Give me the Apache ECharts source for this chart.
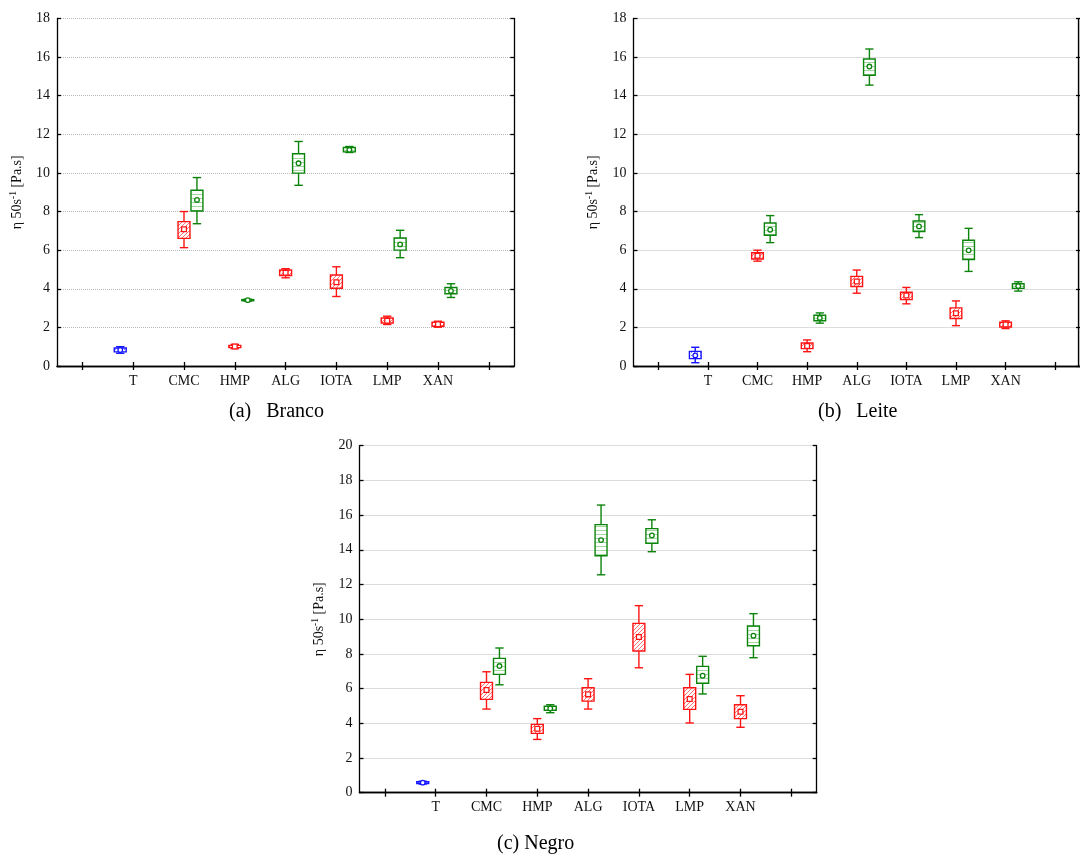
<!DOCTYPE html>
<html>
<head>
<meta charset="utf-8">
<script src="https://cdn.jsdelivr.net/npm/echarts@6/dist/echarts.min.js"></script>
<style>
html,body{margin:0;padding:0;background:#fff;}
#chart{width:1080px;height:855px;}
</style>
</head>
<body>
<div id="chart"></div>
<script>
// ---------------- DATA ----------------
const categories = ['T', 'CMC', 'HMP', 'ALG', 'IOTA', 'LMP', 'XAN'];
const captions = ['(a)   Branco', '(b)   Leite', '(c) Negro'];

// rows: [category, whiskerLow, boxLow, mean, boxHigh, whiskerHigh]
const brancoBlue = [['T', 0.66, 0.73, 0.83, 0.93, 1.00]];
const brancoRed = [
  ['CMC', 6.13, 6.61, 7.08, 7.48, 8.00],
  ['HMP', 0.90, 0.95, 1.01, 1.07, 1.12],
  ['ALG', 4.57, 4.69, 4.83, 4.97, 5.04],
  ['IOTA', 3.60, 4.03, 4.34, 4.71, 5.14],
  ['LMP', 2.15, 2.23, 2.35, 2.49, 2.58],
  ['XAN', 2.01, 2.06, 2.16, 2.27, 2.32]
];
const brancoGreen = [
  ['CMC', 7.37, 8.03, 8.60, 9.10, 9.76],
  ['HMP', 3.36, 3.38, 3.41, 3.44, 3.46],
  ['ALG', 9.36, 9.99, 10.50, 11.00, 11.63],
  ['IOTA', 11.06, 11.09, 11.20, 11.32, 11.37],
  ['LMP', 5.61, 6.00, 6.30, 6.63, 7.03],
  ['XAN', 3.55, 3.74, 3.89, 4.07, 4.26]
];

const leiteBlue = [['T', 0.17, 0.38, 0.55, 0.76, 0.97]];
const leiteRed = [
  ['CMC', 5.43, 5.54, 5.71, 5.87, 6.00],
  ['HMP', 0.74, 0.90, 1.04, 1.19, 1.35],
  ['ALG', 3.77, 4.12, 4.38, 4.64, 4.97],
  ['IOTA', 3.22, 3.44, 3.65, 3.82, 4.07],
  ['LMP', 2.09, 2.46, 2.73, 3.01, 3.37],
  ['XAN', 1.94, 2.02, 2.15, 2.27, 2.34]
];
const leiteGreen = [
  ['CMC', 6.39, 6.77, 7.06, 7.41, 7.79],
  ['HMP', 2.22, 2.34, 2.49, 2.63, 2.75],
  ['ALG', 14.55, 15.06, 15.51, 15.90, 16.42],
  ['IOTA', 6.65, 6.97, 7.23, 7.51, 7.84],
  ['LMP', 4.90, 5.52, 5.99, 6.51, 7.13],
  ['XAN', 3.88, 4.02, 4.14, 4.26, 4.36]
];

const negroBlue = [['T', 0.50, 0.53, 0.58, 0.63, 0.66]];
const negroRed = [
  ['CMC', 4.82, 5.38, 5.92, 6.36, 6.97],
  ['HMP', 3.07, 3.42, 3.69, 3.94, 4.27],
  ['ALG', 4.82, 5.28, 5.67, 6.05, 6.57],
  ['IOTA', 7.20, 8.17, 8.97, 9.76, 10.78],
  ['LMP', 4.02, 4.80, 5.40, 6.05, 6.82],
  ['XAN', 3.77, 4.27, 4.67, 5.07, 5.59]
];
const negroGreen = [
  ['CMC', 6.22, 6.82, 7.30, 7.74, 8.34],
  ['HMP', 4.61, 4.75, 4.86, 4.98, 5.07],
  ['ALG', 12.56, 13.66, 14.56, 15.45, 16.58],
  ['IOTA', 13.89, 14.37, 14.83, 15.22, 15.73],
  ['LMP', 5.69, 6.30, 6.74, 7.28, 7.86],
  ['XAN', 7.78, 8.47, 9.05, 9.61, 10.32]
];

// ---------------- STYLE / LAYOUT ----------------
const FONT = '"Liberation Serif", "Times New Roman", serif';
const axisCats = [''].concat(categories, ['']);
const RED = '#ff1414', GREEN = '#0c840c', BLUE = '#1414ff';

function makePattern(kind) {
  const c = document.createElement('canvas');
  const ctx = c.getContext('2d');
  if (kind === 'diag') {
    c.width = 4; c.height = 4;
    ctx.fillStyle = '#ffffff'; ctx.fillRect(0, 0, 4, 4);
    ctx.strokeStyle = '#ff7070'; ctx.lineWidth = 1;
    ctx.beginPath(); ctx.moveTo(-1, 5); ctx.lineTo(5, -1); ctx.stroke();
    ctx.beginPath(); ctx.moveTo(-1, 1); ctx.lineTo(1, -1); ctx.stroke();
    ctx.beginPath(); ctx.moveTo(3, 5); ctx.lineTo(5, 3); ctx.stroke();
  } else if (kind === 'horiz') {
    c.width = 4; c.height = 4;
    ctx.fillStyle = '#ffffff'; ctx.fillRect(0, 0, 4, 4);
    ctx.fillStyle = '#a0d8a0'; ctx.fillRect(0, 2, 4, 1);
  } else {
    c.width = 3; c.height = 3;
    ctx.fillStyle = '#ffffff'; ctx.fillRect(0, 0, 3, 3);
    ctx.fillStyle = '#8080ff'; ctx.fillRect(1, 1, 1, 1);
  }
  return { image: c, repeat: 'repeat' };
}
const PAT = { diag: makePattern('diag'), horiz: makePattern('horiz'), dots: makePattern('dots') };

function makeRender(offset, color, pattern, markerKind) {
  return function (params, api) {
    const xi = api.value(0);
    const band = api.size([1, 0])[0];
    const cx = api.coord([xi, 0])[0] + offset * band;
    const yy = i => api.coord([xi, api.value(i)])[1];
    const wl = yy(1), bl = yy(2), m = yy(3), bh = yy(4), wh = yy(5);
    const bw = band * 0.235, cw = band * 0.165;
    const LW = 1.4;
    const ls = { stroke: color, lineWidth: LW, fill: null };
    let marker;
    if (markerKind === 'square') {
      marker = { type: 'rect', shape: { x: cx - 2.4, y: m - 2.4, width: 4.8, height: 4.8 },
                 style: { fill: '#fff', stroke: color, lineWidth: 1.3 } };
    } else {
      marker = { type: 'circle', shape: { cx: cx, cy: m, r: 2.3 },
                 style: { fill: '#fff', stroke: color, lineWidth: 1.3 } };
    }
    return {
      type: 'group',
      children: [
        { type: 'line', shape: { x1: cx, y1: wh, x2: cx, y2: bh }, style: ls },
        { type: 'line', shape: { x1: cx, y1: bl, x2: cx, y2: wl }, style: ls },
        { type: 'line', shape: { x1: cx - cw / 2, y1: wh, x2: cx + cw / 2, y2: wh }, style: ls },
        { type: 'line', shape: { x1: cx - cw / 2, y1: wl, x2: cx + cw / 2, y2: wl }, style: ls },
        { type: 'rect', shape: { x: cx - bw / 2, y: bh, width: bw, height: Math.max(bl - bh, 1) },
          style: { fill: pattern, stroke: color, lineWidth: LW } },
        marker
      ]
    };
  };
}

function toRows(arr) {
  return arr.map(r => [axisCats.indexOf(r[0])].concat(r.slice(1)));
}

const panels = [
  { grid: { left: 57, top: 18.5, width: 457.2, height: 347.5 }, yMax: 18,
    blue: brancoBlue, red: brancoRed, green: brancoGreen },
  { grid: { left: 633.5, top: 18.5, width: 457.2, height: 347.5 }, yMax: 18,
    blue: leiteBlue, red: leiteRed, green: leiteGreen },
  { grid: { left: 359.5, top: 445.7, width: 457.2, height: 347 }, yMax: 20,
    blue: negroBlue, red: negroRed, green: negroGreen }
];

const grids = [], xAxes = [], yAxes = [], series = [];
panels.forEach((p, i) => {
  grids.push(Object.assign({ containLabel: false }, p.grid));
  const lineStyle = { color: '#000', width: 1.3 };
  xAxes.push({
    type: 'category', gridIndex: i, data: axisCats, position: 'bottom', boundaryGap: true,
    axisLine: { show: true, lineStyle },
    axisTick: { show: true, inside: true, length: 4, alignWithLabel: true, interval: 0, lineStyle },
    axisLabel: { show: true, interval: 0, margin: 8, fontFamily: FONT, fontSize: 14, color: '#111' },
    splitLine: { show: false }
  });
  xAxes.push({
    type: 'category', gridIndex: i, data: axisCats, position: 'top', boundaryGap: true,
    axisLine: { show: true, lineStyle },
    axisTick: { show: true, inside: true, length: 4, alignWithLabel: true, interval: 0, lineStyle },
    axisLabel: { show: false }, splitLine: { show: false }
  });
  yAxes.push({
    type: 'value', gridIndex: i, min: 0, max: p.yMax, interval: 2, position: 'left',
    name: '{a|η 50s}{s|-1}{a| [Pa.s]}', nameLocation: 'middle', nameGap: 33, nameRotate: 90,
    nameTextStyle: {
      rich: {
        a: { fontFamily: FONT, fontSize: 14, color: '#111', lineHeight: 16, verticalAlign: 'bottom' },
        s: { fontFamily: FONT, fontSize: 9.5, color: '#111', lineHeight: 16, verticalAlign: 'top' }
      }
    },
    axisLine: { show: true, lineStyle },
    axisTick: { show: true, inside: true, length: 4, lineStyle },
    axisLabel: { show: true, margin: 7, fontFamily: FONT, fontSize: 14, color: '#111' },
    splitLine: { show: true, lineStyle: { color: '#b8b8b8', type: [1, 1], width: 1 } }
  });
  yAxes.push({
    type: 'value', gridIndex: i, min: 0, max: p.yMax, interval: 2, position: 'right',
    axisLine: { show: true, lineStyle },
    axisTick: { show: true, inside: true, length: 4, lineStyle },
    axisLabel: { show: false }, splitLine: { show: false }
  });
  const xIdx = 2 * i, yIdx = 2 * i;
  [[p.blue, -0.255, BLUE, PAT.dots, 'circle'],
   [p.red, 0, RED, PAT.diag, 'square'],
   [p.green, 0.255, GREEN, PAT.horiz, 'circle']].forEach(s => {
    series.push({
      type: 'custom', xAxisIndex: xIdx, yAxisIndex: yIdx,
      data: toRows(s[0]),
      encode: { x: 0, y: [1, 2, 3, 4, 5] },
      renderItem: makeRender(s[1], s[2], s[3], s[4]),
      clip: false, silent: true
    });
  });
});

const titleStyle = { fontFamily: FONT, fontSize: 20, fontWeight: 'normal', color: '#000' };
const option = {
  backgroundColor: '#fff',
  animation: false,
  title: [
    { text: captions[0], left: 224, top: 397, textStyle: titleStyle },
    { text: captions[1], left: 813, top: 397, textStyle: titleStyle },
    { text: captions[2], left: 492, top: 829, textStyle: titleStyle }
  ],
  grid: grids,
  xAxis: xAxes,
  yAxis: yAxes,
  series: series,
  graphic: [
    { type: 'line', shape: { x1: 1078.5, y1: 18.5, x2: 1078.5, y2: 366 }, style: { stroke: '#000', lineWidth: 1.3 } }
  ]
};

const chart = echarts.init(document.getElementById('chart'), null, { renderer: 'canvas' });
chart.setOption(option);
</script>
</body>
</html>
